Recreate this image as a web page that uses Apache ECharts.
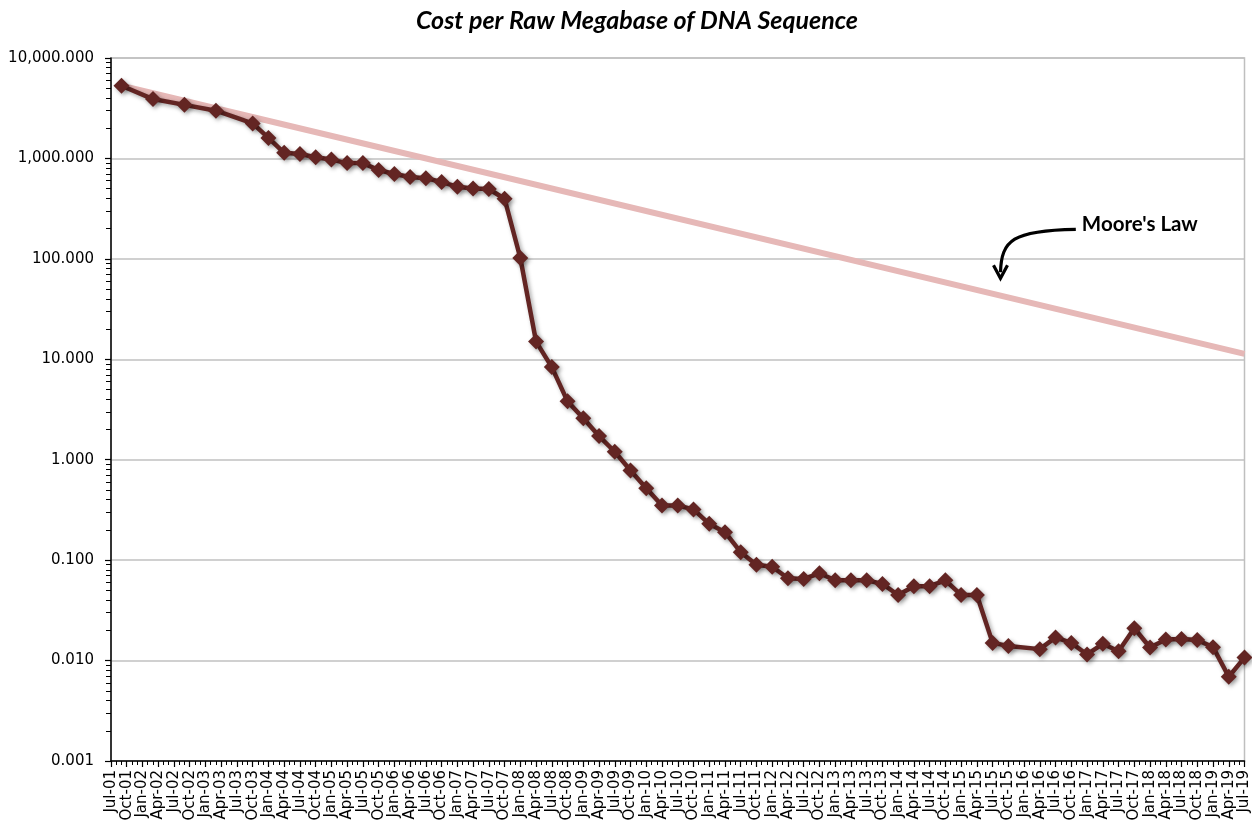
<!DOCTYPE html>
<html>
<head>
<meta charset="utf-8">
<style>
  html, body { margin: 0; padding: 0; background: #ffffff; }
  #chart { width: 1252px; height: 825px; }
</style>
<script src="https://cdn.jsdelivr.net/npm/echarts@6/dist/echarts.min.js"></script>
</head>
<body>
<div id="chart"></div>
<script>
// Sequencing cost per raw megabase (USD), by sampling date
const dates = [
  'Sep-01','Mar-02','Sep-02','Mar-03','Oct-03','Jan-04','Apr-04','Jul-04','Oct-04',
  'Jan-05','Apr-05','Jul-05','Oct-05','Jan-06','Apr-06','Jul-06','Oct-06',
  'Jan-07','Apr-07','Jul-07','Oct-07','Jan-08','Apr-08','Jul-08','Oct-08',
  'Jan-09','Apr-09','Jul-09','Oct-09','Jan-10','Apr-10','Jul-10','Oct-10',
  'Jan-11','Apr-11','Jul-11','Oct-11','Jan-12','Apr-12','Jul-12','Oct-12',
  'Jan-13','Apr-13','Jul-13','Oct-13','Jan-14','Apr-14','Jul-14','Oct-14',
  'Jan-15','Apr-15','Jul-15','Oct-15','Apr-16','Jul-16','Oct-16',
  'Jan-17','Apr-17','Jul-17','Oct-17','Jan-18','Apr-18','Jul-18','Oct-18',
  'Jan-19','Apr-19','Jul-19'
];
const costPerMb = [
  5292, 3899, 3414, 2986, 2231, 1599, 1136, 1107, 1029,
  974, 898, 899, 767, 699, 652, 636, 582,
  523, 503, 496, 397, 102, 15.0, 8.36, 3.81,
  2.59, 1.72, 1.20, 0.78, 0.52, 0.35, 0.35, 0.32,
  0.23, 0.19, 0.12, 0.090, 0.086, 0.066, 0.065, 0.074,
  0.063, 0.063, 0.063, 0.058, 0.045, 0.055, 0.055, 0.063,
  0.045, 0.045, 0.015, 0.014, 0.013, 0.017, 0.015,
  0.0115, 0.0147, 0.0124, 0.021, 0.0135, 0.0162, 0.0164, 0.0160,
  0.0136, 0.0069, 0.0107
];

// Moore's Law reference (halving every two years), end points
const mooreDates = ['Sep-01', 'Jul-19'];
const mooreValues = [5292, 11.3];

// Quarterly tick labels along the date axis
const xTickLabels = [
  'Jul-01','Oct-01',
  'Jan-02','Apr-02','Jul-02','Oct-02','Jan-03','Apr-03','Jul-03','Oct-03',
  'Jan-04','Apr-04','Jul-04','Oct-04','Jan-05','Apr-05','Jul-05','Oct-05',
  'Jan-06','Apr-06','Jul-06','Oct-06','Jan-07','Apr-07','Jul-07','Oct-07',
  'Jan-08','Apr-08','Jul-08','Oct-08','Jan-09','Apr-09','Jul-09','Oct-09',
  'Jan-10','Apr-10','Jul-10','Oct-10','Jan-11','Apr-11','Jul-11','Oct-11',
  'Jan-12','Apr-12','Jul-12','Oct-12','Jan-13','Apr-13','Jul-13','Oct-13',
  'Jan-14','Apr-14','Jul-14','Oct-14','Jan-15','Apr-15','Jul-15','Oct-15',
  'Jan-16','Apr-16','Jul-16','Oct-16','Jan-17','Apr-17','Jul-17','Oct-17',
  'Jan-18','Apr-18','Jul-18','Oct-18','Jan-19','Apr-19','Jul-19'
];
const yTickValues = [0.001, 0.01, 0.1, 1, 10, 100, 1000, 10000];
const yTickLabels = ['0.001', '0.010', '0.100', '1.000', '10.000', '100.000', '1,000.000', '10,000.000'];
const yMinorTicks = [];
for (let e = -3; e < 4; e++) {
  for (let k = 2; k <= 9; k++) yMinorTicks.push(+(k * Math.pow(10, e)).toPrecision(3));
}

const MONTHS = ['Jan','Feb','Mar','Apr','May','Jun','Jul','Aug','Sep','Oct','Nov','Dec'];
// months elapsed since Jul-01
function monthIndex(label) {
  const [m, y] = label.split('-');
  return (2000 + parseInt(y, 10)) * 12 + MONTHS.indexOf(m) - (2001 * 12 + 6);
}

const costSeries = dates.map((d, i) => [monthIndex(d), costPerMb[i]]);
const mooreSeries = mooreDates.map((d, i) => [monthIndex(d), mooreValues[i]]);

const chart = echarts.init(document.getElementById('chart'), null, { renderer: 'canvas' });

const textFont = 'DejaVu Sans';
const maroon = '#632523';

chart.setOption({
  animation: false,
  backgroundColor: '#ffffff',
  title: {
    text: 'Cost per Raw Megabase of DNA Sequence',
    left: 632, top: 3, textAlign: 'center',
    textStyle: { fontFamily: 'Lato', fontStyle: 'italic', fontWeight: 'bold', fontSize: 25, color: '#000' }
  },
  grid: {
    left: 111, right: 6, top: 58, bottom: 64,
    show: true, borderColor: '#bfbfbf', borderWidth: 1.5, backgroundColor: 'transparent'
  },
  xAxis: {
    type: 'value', min: 0, max: 216, interval: 3,
    axisLine: { show: true, lineStyle: { color: '#000', width: 1.5 } },
    axisTick: { show: true, length: 6, lineStyle: { color: '#000', width: 1.2 } },
    minorTick: { show: true, splitNumber: 3, length: 4, lineStyle: { color: '#000', width: 1 } },
    splitLine: { show: false },
    axisLabel: {
      rotate: 90, margin: 9, fontFamily: textFont, fontSize: 15, color: '#000',
      padding: [0, 0, 10, 0],
      formatter: v => xTickLabels[Math.round(v / 3)] || ''
    }
  },
  yAxis: [
    {
      type: 'log', logBase: 10, min: 0.001, max: 10000,
      axisLine: { show: true, lineStyle: { color: '#000', width: 1.5 } },
      axisTick: { show: true, length: 6, lineStyle: { color: '#000', width: 1.2 } },
      splitLine: { show: true, lineStyle: { color: '#c0c0c0', width: 1.5 } },
      axisLabel: {
        margin: 17, fontFamily: textFont, fontSize: 15, color: '#000',
        formatter: v => {
          const i = yTickValues.findIndex(t => Math.abs(Math.log10(t) - Math.log10(v)) < 1e-6);
          return i >= 0 ? yTickLabels[i] : '';
        }
      }
    },
    {
      type: 'log', logBase: 10, min: 0.001, max: 10000, position: 'left',
      axisLine: { show: false },
      axisLabel: { show: false },
      splitLine: { show: false },
      axisTick: { show: true, length: 5, customValues: yMinorTicks, lineStyle: { color: '#000', width: 1 } }
    }
  ],
  series: [
    {
      name: "Moore's Law",
      type: 'line',
      data: mooreSeries,
      showSymbol: false,
      symbol: 'none',
      z: 2,
      lineStyle: { color: '#e6b8b7', width: 6 }
    },
    {
      name: 'Cost per Raw Megabase',
      type: 'line',
      data: costSeries,
      symbol: 'diamond',
      symbolSize: 16,
      z: 3,
      lineStyle: {
        color: maroon, width: 4.5,
        shadowColor: 'rgba(0,0,0,0.35)', shadowBlur: 4, shadowOffsetX: 2, shadowOffsetY: 2
      },
      itemStyle: {
        color: maroon,
        shadowColor: 'rgba(0,0,0,0.35)', shadowBlur: 4, shadowOffsetX: 2, shadowOffsetY: 2
      }
    }
  ]
});

// "Moore's Law" callout, anchored to the axes
const labelAt = chart.convertToPixel({ gridIndex: 0 }, [185, 212]);
const tipAt = chart.convertToPixel({ gridIndex: 0 }, [169.5, 64]);
const lx = labelAt[0], ly = labelAt[1];
const tx = tipAt[0], ty = tipAt[1];
chart.setOption({
  graphic: [
    {
      type: 'text', left: lx, top: ly - 12,
      style: { text: "Moore's Law", fontFamily: 'Lato', fontWeight: 'bold', fontSize: 20.5, fill: '#000' }
    },
    {
      type: 'bezierCurve',
      shape: {
        x1: lx - 6, y1: ty - 49,
        cpx1: tx + 12, cpy1: ty - 48,
        cpx2: tx + 1, cpy2: ty - 38,
        x2: tx, y2: ty - 6
      },
      style: { stroke: '#000', lineWidth: 3.2, fill: 'none' }
    },
    {
      type: 'polyline',
      shape: { points: [[tx - 7, ty - 13], [tx, ty], [tx + 7, ty - 13]] },
      style: { stroke: '#000', lineWidth: 3.2, fill: 'none' }
    }
  ]
});
</script>
</body>
</html>
